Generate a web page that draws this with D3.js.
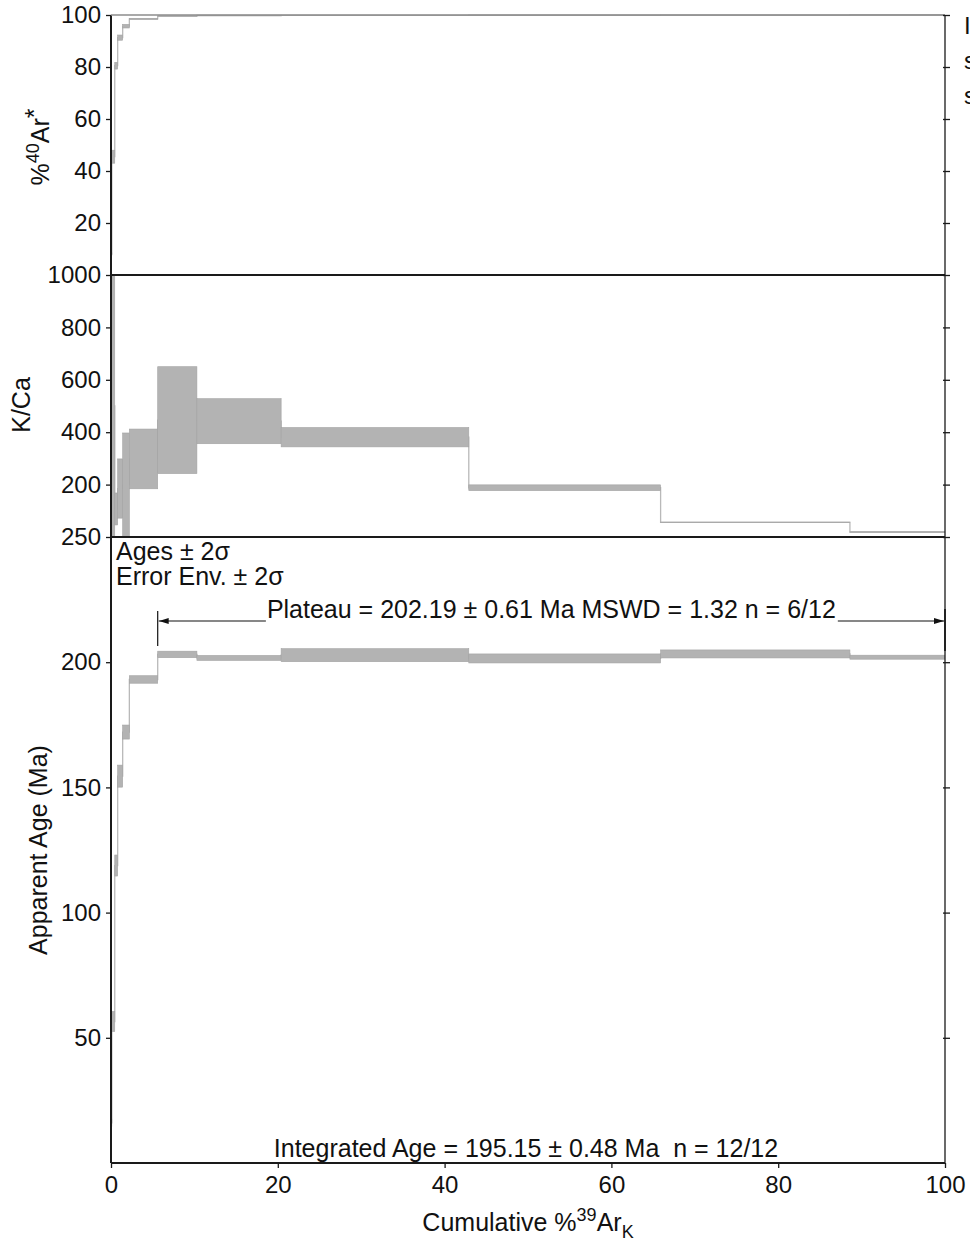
<!DOCTYPE html>
<html>
<head>
<meta charset="utf-8">
<script src="https://cdn.jsdelivr.net/npm/d3@7"></script>
<style>
  html, body { margin: 0; padding: 0; background: #fff; }
  svg { display: block; font-family: "Liberation Sans", Arial, sans-serif; }
  text { fill: #111; }
</style>
</head>
<body>
<svg id="chart" width="970" height="1247"></svg>
<script>
// Incremental heating steps: cumulative %39ArK at the end of each step
const cumulative39Ar = [0.1, 0.45, 0.8, 1.4, 2.2, 5.6, 10.3, 20.4, 42.9, 65.9, 88.6, 100];

// Radiogenic 40Ar (%) and 2-sigma errors per step
const radiogenic40Ar    = [8, 45.5, 80.5, 91.3, 95.7, 98.5, 99.6, 99.8, 99.85, 99.9, 99.95, 100];
const radiogenic40ArErr = [0.5, 2.5, 1.3, 1.0, 0.7, 0.2, 0.1, 0.1, 0.05, 0.05, 0.05, 0.05];

// K/Ca ratio and 2-sigma errors per step
const kCaRatio = [150, 500, 107, 185, 199, 298, 446, 442, 381, 188, 56, 19];
const kCaErr   = [140, 800, 61, 113, 198, 114, 204, 86, 37, 11, 1, 1];

// Apparent age (Ma) and 2-sigma errors per step
const apparentAge = [16, 56.5, 118.8, 154.5, 172.1, 193.1, 203.1, 201.7, 202.8, 201.5, 203.3, 202.0];
const ageErr      = [1.5, 4.0, 4.2, 4.4, 2.8, 1.5, 1.3, 1.0, 2.6, 1.8, 1.6, 0.8];

// Plateau steps (1-based, inclusive)
const plateauFirstStep = 7;
const plateauLastStep = 12;

// Tick values
const xTicks = [0, 20, 40, 60, 80, 100];
const arTicks = [20, 40, 60, 80, 100];
const kCaTicks = [200, 400, 600, 800, 1000];
const ageTicks = [50, 100, 150, 200, 250];

// Annotations
const plateauLabel = "Plateau = 202.19 \u00b1 0.61 Ma MSWD = 1.32 n = 6/12";
const integratedLabel = "Integrated Age = 195.15 \u00b1 0.48 Ma\u00a0\u00a0n = 12/12";
const errorLines = ["Ages \u00b1 2\u03c3", "Error Env. \u00b1 2\u03c3"];

const svg = d3.select("#chart");
const left = 111, right = 945;
const panels = { arTop: 15, kCaTop: 275, ageTop: 537, ageBottom: 1163 };
const labelSize = 25;

const x = d3.scaleLinear().domain([0, 100]).range([left, right]);
const yAr = d3.scaleLinear().domain([0, 100]).range([panels.kCaTop, panels.arTop]);
const yKCa = d3.scaleLinear().domain([0, 1000]).range([panels.ageTop, panels.kCaTop]);
const yAge = d3.scaleLinear().domain([0, 250]).range([panels.ageBottom, panels.ageTop]);

const steps = cumulative39Ar.map((c, i) => ({ x0: i === 0 ? 0 : cumulative39Ar[i - 1], x1: c, i }));

const defs = svg.append("defs");
function clipFor(id, top, bottom) {
  defs.append("clipPath").attr("id", id)
    .append("rect").attr("x", left).attr("y", top).attr("width", right - left).attr("height", bottom - top);
  return `url(#${id})`;
}

// Step spectrum: connecting step line plus error boxes
function drawSpectrum(values, errs, y, clipId, top, bottom) {
  const g = svg.append("g").attr("clip-path", clipFor(clipId, top, bottom));
  const pts = [];
  steps.forEach((s, i) => {
    pts.push([x(s.x0), y(values[i])]);
    pts.push([x(s.x1), y(values[i])]);
  });
  g.append("path")
    .attr("d", d3.line()(pts))
    .attr("fill", "none")
    .attr("stroke", "#b9b9b9")
    .attr("stroke-width", 1.3);
  g.selectAll("rect.step").data(steps).join("rect")
    .attr("class", "step")
    .attr("x", s => x(s.x0))
    .attr("width", s => x(s.x1) - x(s.x0))
    .attr("y", s => y(values[s.i] + errs[s.i]))
    .attr("height", s => y(values[s.i] - errs[s.i]) - y(values[s.i] + errs[s.i]))
    .attr("fill", "#b3b3b3")
    .attr("stroke", "#a3a3a3")
    .attr("stroke-width", 0.6);
}

drawSpectrum(radiogenic40Ar, radiogenic40ArErr, yAr, "clip-ar", panels.arTop - 2, panels.kCaTop);
drawSpectrum(kCaRatio, kCaErr, yKCa, "clip-kca", panels.kCaTop, panels.ageTop);
drawSpectrum(apparentAge, ageErr, yAge, "clip-age", panels.ageTop, panels.ageBottom);

// Frame
const frame = svg.append("g").attr("stroke", "#1a1a1a").attr("fill", "none");
frame.append("line").attr("x1", left).attr("x2", left).attr("y1", panels.arTop).attr("y2", panels.ageBottom).attr("stroke-width", 2);
frame.append("line").attr("x1", right).attr("x2", right).attr("y1", panels.arTop).attr("y2", panels.ageBottom).attr("stroke-width", 1.3);
[panels.kCaTop, panels.ageTop, panels.ageBottom].forEach(yy => {
  frame.append("line").attr("x1", left).attr("x2", right).attr("y1", yy).attr("y2", yy).attr("stroke-width", 1.8);
});
svg.append("line").attr("x1", left).attr("x2", right).attr("y1", panels.arTop).attr("y2", panels.arTop)
  .attr("stroke", "#8c8c8c").attr("stroke-width", 1.6);

// Axes
function styleAxis(g, fontSize) {
  g.select(".domain").remove();
  g.selectAll(".tick line").attr("stroke", "#1a1a1a").attr("stroke-width", 1.3);
  g.selectAll(".tick text").attr("font-size", fontSize).attr("fill", "#111")
    .attr("font-family", '"Liberation Sans", Arial, sans-serif');
}

[[yAr, arTicks], [yKCa, kCaTicks], [yAge, ageTicks]].forEach(([scale, ticks]) => {
  svg.append("g").attr("transform", `translate(${left},0)`)
    .call(d3.axisLeft(scale).tickValues(ticks).tickSize(5).tickPadding(5).tickFormat(d3.format("d")))
    .call(g => styleAxis(g, 24));
  svg.append("g").attr("transform", `translate(${right - 2},0)`)
    .call(d3.axisRight(scale).tickValues(ticks).tickSize(7).tickFormat(""))
    .call(g => styleAxis(g, 24));
});

svg.append("g").attr("transform", `translate(0,${panels.ageBottom})`)
  .call(d3.axisBottom(x).tickValues(xTicks).tickSize(5).tickPadding(8).tickFormat(d3.format("d")))
  .call(g => styleAxis(g, 24));

// Axis titles
const arTitle = svg.append("text")
  .attr("transform", "translate(49,147) rotate(-90)")
  .attr("text-anchor", "middle").attr("font-size", labelSize);
arTitle.append("tspan").text("%");
arTitle.append("tspan").attr("font-size", 18).attr("dy", -10).text("40");
arTitle.append("tspan").attr("dy", 10).text("Ar");
arTitle.append("tspan").attr("dy", -6).text("*");

svg.append("text")
  .attr("transform", "translate(30,405) rotate(-90)")
  .attr("text-anchor", "middle").attr("font-size", labelSize)
  .text("K/Ca");

svg.append("text")
  .attr("transform", "translate(47,850) rotate(-90)")
  .attr("text-anchor", "middle").attr("font-size", labelSize)
  .text("Apparent Age (Ma)");

const xTitle = svg.append("text")
  .attr("x", 528).attr("y", 1231)
  .attr("text-anchor", "middle").attr("font-size", labelSize);
xTitle.append("tspan").text("Cumulative %");
xTitle.append("tspan").attr("font-size", 18).attr("dy", -10).text("39");
xTitle.append("tspan").attr("dy", 10).text("Ar");
xTitle.append("tspan").attr("font-size", 18).attr("dy", 7).text("K");

// Error legend text
errorLines.forEach((t, i) => {
  svg.append("text").attr("x", 116).attr("y", 560 + i * 25).attr("font-size", labelSize).text(t);
});

// Plateau bracket
const pStart = x(cumulative39Ar[plateauFirstStep - 2]);
const pEnd = x(cumulative39Ar[plateauLastStep - 1]);
const arrowY = 621;
defs.append("marker").attr("id", "arrowhead")
  .attr("viewBox", "0 0 10 6").attr("refX", 10).attr("refY", 3)
  .attr("markerWidth", 10).attr("markerHeight", 6).attr("markerUnits", "userSpaceOnUse")
  .attr("orient", "auto")
  .append("path").attr("d", "M0,0 L10,3 L0,6 Z").attr("fill", "#111");

const tCenter = (pStart + pEnd) / 2;
const plateauText = svg.append("text")
  .attr("x", tCenter).attr("y", 618)
  .attr("text-anchor", "middle").attr("font-size", labelSize)
  .text(plateauLabel);
const tw = plateauText.node().getComputedTextLength();
const bracket = svg.append("g").attr("stroke", "#111").attr("stroke-width", 1.2);
bracket.append("line").attr("x1", tCenter - tw / 2 - 1).attr("x2", pStart + 1).attr("y1", arrowY).attr("y2", arrowY)
  .attr("marker-end", "url(#arrowhead)");
bracket.append("line").attr("x1", tCenter + tw / 2 + 2).attr("x2", pEnd - 1).attr("y1", arrowY).attr("y2", arrowY)
  .attr("marker-end", "url(#arrowhead)");
bracket.append("line").attr("x1", pStart).attr("x2", pStart).attr("y1", 611).attr("y2", 646);
bracket.append("line").attr("x1", pEnd).attr("x2", pEnd).attr("y1", 609).attr("y2", 651).attr("stroke-width", 1.6);

// Integrated age
svg.append("text")
  .attr("x", 526).attr("y", 1157)
  .attr("text-anchor", "middle").attr("font-size", labelSize)
  .text(integratedLabel);

// Notes column beyond the right margin
["I", "s", "s"].forEach((t, i) => {
  svg.append("text").attr("x", 964).attr("y", 34 + i * 35).attr("font-size", 24).text(t);
});
</script>
</body>
</html>
